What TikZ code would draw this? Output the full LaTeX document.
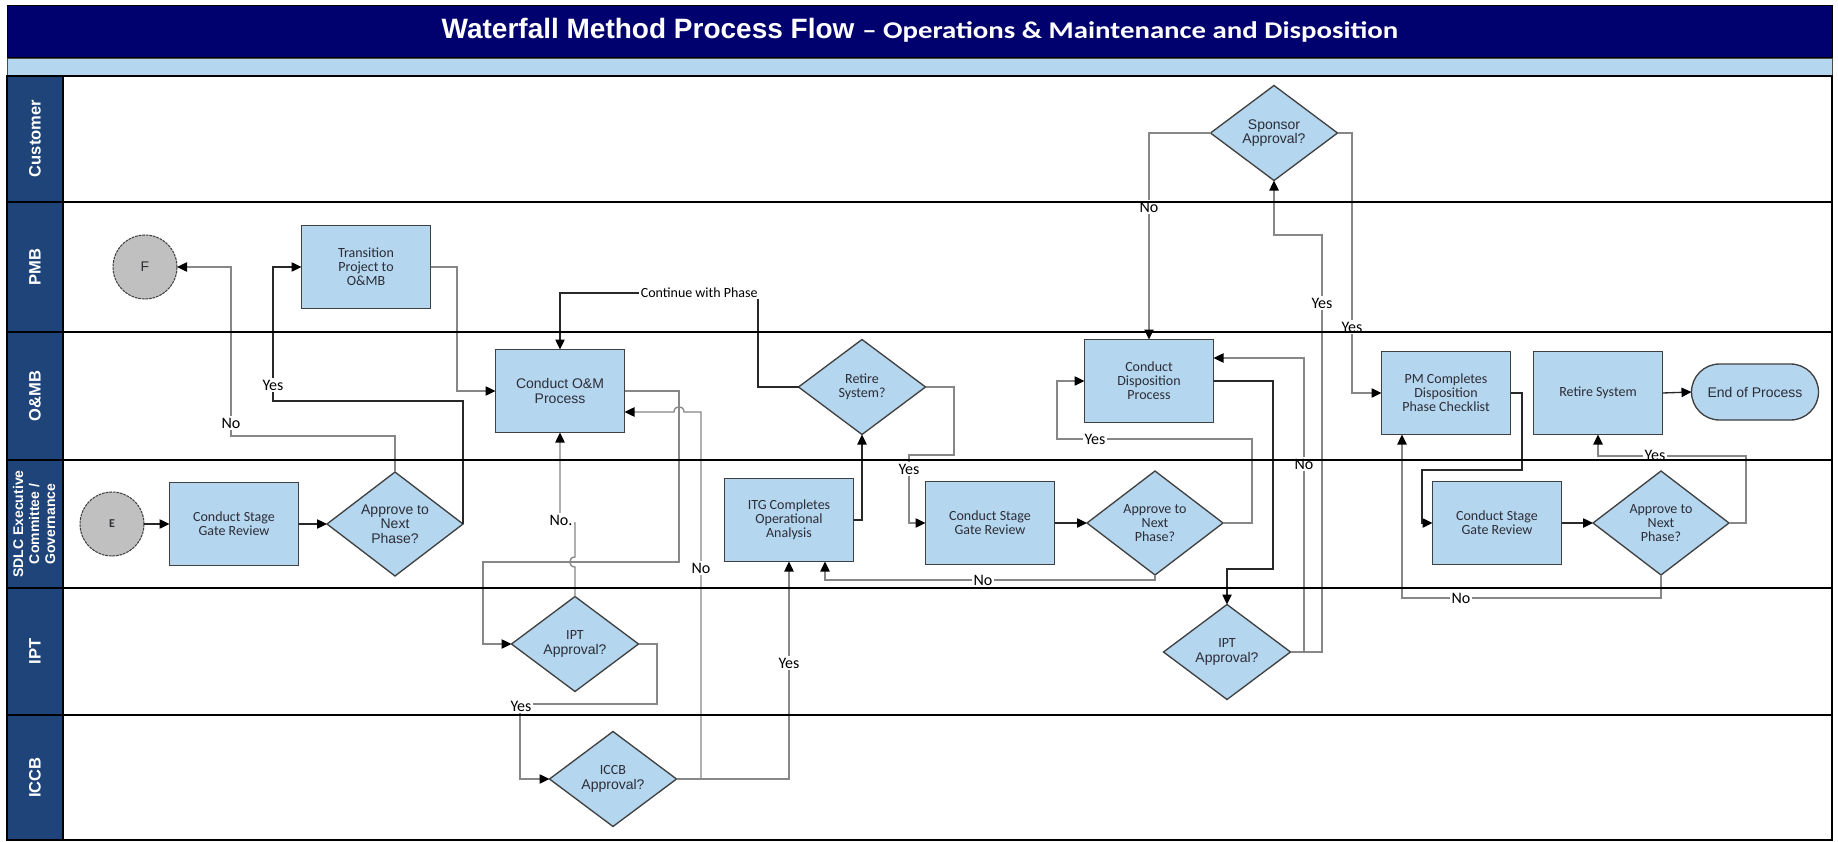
\documentclass[tikz,border=0pt]{standalone}
\usepackage{fontspec}
\usepackage{graphicx}
\usetikzlibrary{arrows.meta,shapes.geometric,calc}
\setmainfont{Liberation Sans}
\newfontfamily\calfont{Carlito}
\newfontfamily\arifont{Liberation Sans}

\definecolor{navy}{RGB}{0,0,110}
\definecolor{paleblue}{RGB}{180,214,238}
\definecolor{lanefill}{RGB}{31,68,121}
\definecolor{boxline}{RGB}{64,64,64}
\definecolor{linegrey}{RGB}{135,135,135}
\definecolor{linedark}{RGB}{40,40,40}
\definecolor{termgrey}{RGB}{192,192,192}
\definecolor{textgrey}{RGB}{45,45,55}

\begin{document}
\begin{tikzpicture}[x=0.75pt,y=-0.75pt,
  every node/.style={inner sep=0pt,outer sep=0pt},
  calt/.style={font=\calfont\fontsize{10.5}{10.5}\selectfont,text=textgrey,align=center},
  arit/.style={font=\arifont\fontsize{10.5}{11}\selectfont,text=textgrey,align=center},
  procbox/.style={rectangle,draw=boxline,line width=1pt,fill=paleblue,
    minimum width=96.75pt,minimum height=62.25pt},
  decision/.style={diamond,draw=boxline,line width=1pt,fill=paleblue,
    aspect=1.31,minimum width=102pt,minimum height=78pt},
  decisionb/.style={diamond,draw=boxline,line width=1pt,fill=paleblue,
    aspect=1.34,minimum width=95.25pt,minimum height=71.25pt},
  termcircle/.style={circle,draw=boxline,line width=0.8pt,dash pattern=on 2pt off 0.7pt,
    fill=termgrey,minimum size=48pt},
  stopbox/.style={rectangle,rounded corners=21pt,draw=boxline,line width=1pt,fill=paleblue,
    minimum width=95.25pt,minimum height=42pt},
  lanelbl/.style={font=\arifont\bfseries\fontsize{12.4}{14}\selectfont,text=white,align=center,rotate=90},
  gline/.style={draw=linegrey,line width=1pt},
  dline/.style={draw=linedark,line width=1pt},
  arrowed/.style={-{Triangle[length=7.5pt,width=7pt,color=black]}},
  lbl/.style={font=\calfont\fontsize{12}{12}\selectfont,fill=white,inner sep=1pt,text=black}
]
\useasboundingbox (0,0) rectangle (1838,842);
\fill[white] (0,0) rectangle (1838,842);

% title band
\draw[fill=navy,draw=black,line width=0.6pt] (7,5) rectangle (1832,57);
\draw[fill=paleblue,draw=black!70,line width=0.6pt] (7,58) rectangle (1832,75);
\node[text=white,anchor=base] (title) at (920,39)
  {\arifont\bfseries\fontsize{21}{24}\selectfont Waterfall Method Process Flow
   \calfont\bfseries\fontsize{18}{22}\selectfont\scalebox{1.2}[1]{– Operations \& Maintenance and Disposition}};

% swimlane header column
\fill[lanefill] (7,76) rectangle (63,840);
\node[lanelbl] (lcust) at (35,138.5) {Customer};
\node[lanelbl] (lpmb) at (35,267) {PMB};
\node[lanelbl] (lomb) at (35,396) {O\&MB};
\node[lanelbl,font=\arifont\bfseries\fontsize{10.5}{12}\selectfont] (lsdlc) at (34,524)
  {SDLC Executive\\Committee /\\Governance};
\node[lanelbl] (lipt) at (35,651.5) {IPT};
\node[lanelbl] (liccb) at (35,777.5) {ICCB};

% process shapes
\node[termcircle,arit] (F) at (145,267) {F};
\node[termcircle,font=\calfont\bfseries\fontsize{9}{9}\selectfont,text=textgrey] (E) at (112,524) {E};
\node[procbox,calt] (trans) at (366,267) {Transition\\Project to\\O\&MB};
\node[procbox,calt] (csgr1) at (234,524) {Conduct Stage\\Gate Review};
\node[decision,arit] (appr1) at (395,524) {Approve to\\Next\\Phase?};
\node[procbox,arit] (om) at (560,391) {Conduct O\&M\\Process};
\node[decisionb,arit] (ipt1) at (575,644) {{\calfont IPT}\\Approval?};
\node[decisionb,arit] (iccb) at (613,779) {{\calfont ICCB}\\Approval?};
\node[decisionb,calt] (retq) at (862,387) {Retire\\System?};
\node[procbox,calt] (itg) at (789,520) {ITG Completes\\Operational\\Analysis};
\node[procbox,calt] (csgr2) at (990,523) {Conduct Stage\\Gate Review};
\node[decision,calt] (appr2) at (1155,523) {Approve to\\Next\\Phase?};
\node[decisionb,arit] (spons) at (1274,133) {Sponsor\\Approval?};
\node[procbox,calt] (disp) at (1149,381) {Conduct\\Disposition\\Process};
\node[decisionb,arit] (ipt2) at (1227,652) {{\calfont IPT}\\Approval?};
\node[procbox,calt] (pmc) at (1446,393) {PM Completes\\Disposition\\Phase Checklist};
\node[procbox,calt] (retsys) at (1598,393) {Retire System};
\node[stopbox,arit] (endp) at (1755,392) {End of Process};
\node[procbox,calt] (csgr3) at (1497,523) {Conduct Stage\\Gate Review};
\node[decision,calt] (appr3) at (1661,523) {Approve to\\Next\\Phase?};

% flows
\draw[dline,arrowed] (E.east) -- (csgr1.west);
\draw[dline,arrowed] (csgr1.east) -- (appr1.west);
\draw[gline,arrowed] (appr1.north) |- (231,436) |- (F.east);
\draw[dline,arrowed] (appr1.east) |- (273,401) |- (trans.west);
\draw[gline,arrowed] (trans.east) -| (457,391) -- (om.west);
\draw[dline,arrowed] (retq.west) -- (758,387) |- (560,293) -- (om.north);
\draw[gline,arrowed] (om.east) -- (679,391) -- (679,562) -- (483,562) |- (ipt1.west);
\draw[gline,arrowed] (ipt1.north) -- (575,567) .. controls (568,567) and (568,557) .. (575,557)
  -- (575,523) -- (560,523) -- (om.south);
\draw[gline,arrowed] (ipt1.east) -| (657,704) -- (520,704) |- (iccb.west);
\draw[gline,arrowed] (iccb.east) -| (701,412) -- (684,412) .. controls (684,405) and (674,405) .. (674,412)
  -- (om.east |- 0,412);
\draw[gline,arrowed] (iccb.east) -| (itg.south);
\draw[dline,arrowed] (itg.east) -| (retq.south);
\draw[gline,arrowed] (retq.east) -| (954,455) -- (909,455) |- (csgr2.west);
\draw[dline,arrowed] (csgr2.east) -- (appr2.west);
\draw[gline,arrowed] (appr2.south) -- (1155,580) -| ([xshift=27pt]itg.south);
\draw[gline,arrowed] (appr2.east) -| (1252,439) -- (1057,439) |- (disp.west);
\draw[dline,arrowed] (disp.east) -| (1273,569) -| (ipt2.north);
\draw[gline,arrowed] (ipt2.east) -| (1304,358) -- (disp.east |- 0,358);
\draw[gline,arrowed] (ipt2.east) -| (1322,235) -| (spons.south);
\draw[gline,arrowed] (spons.west) -| (disp.north);
\draw[gline,arrowed] (spons.east) -| (1352,393) -- (pmc.west);
\draw[dline,arrowed] (pmc.east) -| (1522,470) -- (1422,470) |- (csgr3.west);
\draw[dline,arrowed] (csgr3.east) -- (appr3.west);
\draw[gline,arrowed] (appr3.east) -| (1746,456) -| (retsys.south);
\draw[gline,arrowed] (appr3.south) |- (1402,598) -- (pmc.south -| 1402,0);
\draw[dline,arrowed] (retsys.east) -- (endp.west);

% flow labels
\node[lbl] (n1) at (231,423) {No};
\node[lbl] (y1) at (273,385) {Yes};
\node[lbl,font=\calfont\fontsize{10.5}{10.5}\selectfont,anchor=east] (cwp) at (759,293) {Continue with Phase};
\node[lbl] (n2) at (561,520) {No.};
\node[lbl] (y2) at (521,706) {Yes};
\node[lbl] (n3) at (701,568) {No};
\node[lbl] (y3) at (789,663) {Yes};
\node[lbl] (y4) at (909,469) {Yes};
\node[lbl] (n4) at (983,580) {No};
\node[lbl] (y5) at (1095,439) {Yes};
\node[lbl] (n5) at (1304,464) {No};
\node[lbl] (y6) at (1322,303) {Yes};
\node[lbl] (n6) at (1149,207) {No};
\node[lbl] (y7) at (1352,327) {Yes};
\node[lbl] (y8) at (1655,455) {Yes};
\node[lbl] (n7) at (1461,598) {No};

% lane separators and frame
\foreach \yy in {202,332,460,588,715}
  \draw[line width=1.1pt] (7,\yy) -- (1832,\yy);
\draw[line width=1.1pt] (7,76) rectangle (1832,840);
\draw[line width=0.8pt] (63,76) -- (63,840);
\end{tikzpicture}
\end{document}
